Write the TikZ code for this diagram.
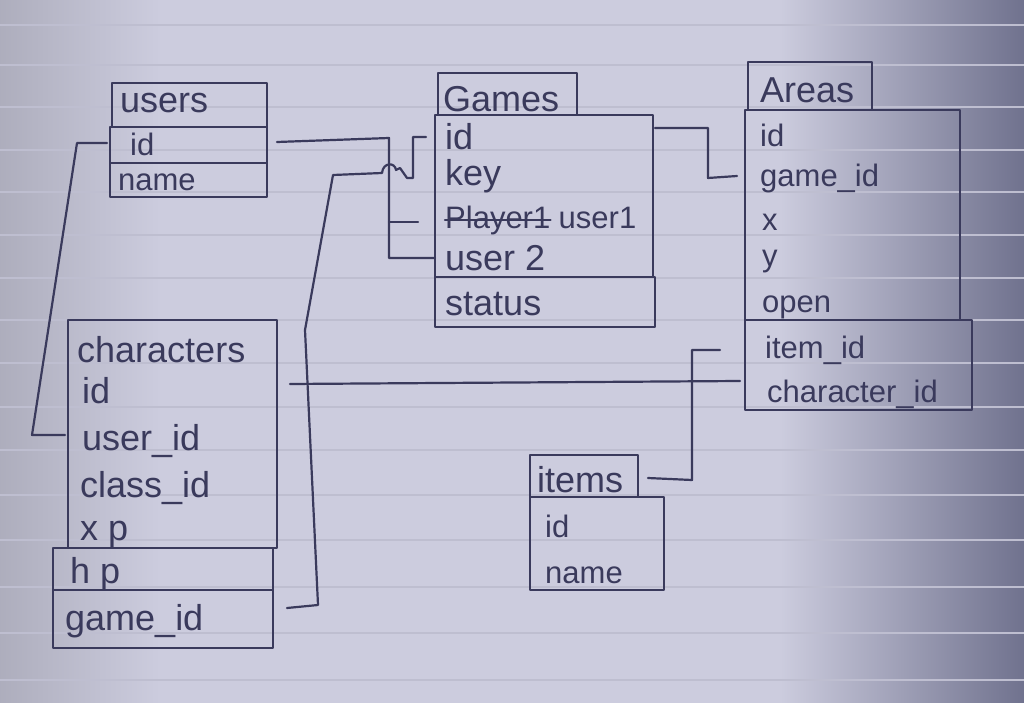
\documentclass[tikz,border=0pt]{standalone}
\usepackage{fontspec}
\setmainfont{Liberation Sans}
\usetikzlibrary{positioning}
\definecolor{ink}{RGB}{58,58,92}
\definecolor{paper}{RGB}{204,204,222}
\definecolor{paperdark}{RGB}{112,114,142}
\definecolor{rule}{RGB}{190,190,208}
\tikzset{
  pen/.style={draw=ink, line width=2.2pt, line cap=round, line join=round},
  lbl/.style={anchor=base west, inner sep=0pt, text=ink, font=\fontsize{36}{40}\selectfont},
  small/.style={lbl, font=\fontsize{31}{34}\selectfont},
}
\begin{document}
\begin{tikzpicture}[x=1pt,y=-1pt]
		\useasboundingbox (0,0) rectangle (1024,703);
		% paper
		\fill[paper] (0,0) rectangle (1024,703);
		\shade[left color=paper, right color=paperdark] (780,0) rectangle (1024,703);
		\shade[left color=paper!85!black, right color=paper] (0,0) rectangle (160,703);
		\foreach \y in {25,65,107,150,192,235,278,320,363,407,450,495,540,587,633,680}
			\draw[rule, line width=1.2pt] (0,\y) -- (1024,\y);

		% users
		\draw[pen] (112,83) rectangle (267,127);
		\draw[pen] (110,127) rectangle (267,163);
		\draw[pen] (110,163) rectangle (267,197);
		\node[lbl] (uTitle) at (120,113) {users};
		\node[small] (uId) at (130,156) {id};
		\node[small] (uName) at (118,191) {name};

		% games
		\draw[pen] (438,73) rectangle (577,115);
		\draw[pen] (435,115) rectangle (653,277);
		\draw[pen] (435,277) rectangle (655,327);
		\node[lbl] (gTitle) at (443,112) {Games};
		\node[lbl] (gId) at (445,150) {id};
		\node[lbl] (gKey) at (445,186) {key};
		\node[small] (gPlayer) at (445,229) {Player1};
		\node[small, right=8pt of gPlayer.base east, anchor=base west] (gUser1) {user1};
		\draw[pen] ([yshift=9pt]gPlayer.base west) -- ([yshift=9pt]gPlayer.base east);
		\node[lbl] (gUser2) at (445,270) {user 2};
		\node[lbl] (gStatus) at (445,315) {status};

		% areas
		\draw[pen] (748,62) rectangle (872,110);
		\draw[pen] (745,110) rectangle (960,320);
		\draw[pen] (745,320) rectangle (972,410);
		\node[lbl] (aTitle) at (760,103) {Areas};
		\node[small] (aId) at (760,147) {id};
		\node[small] (aGame) at (760,187) {game\_id};
		\node[small] (aX) at (762,230) {x};
		\node[small] (aY) at (762,266) {y};
		\node[small] (aOpen) at (762,312) {open};
		\node[small] (aItem) at (765,358) {item\_id};
		\node[small] (aChar) at (767,402) {character\_id};

		% characters
		\draw[pen] (68,320) rectangle (277,548);
		\draw[pen] (53,548) rectangle (273,590);
		\draw[pen] (53,590) rectangle (273,648);
		\node[lbl] (cTitle) at (77,362) {characters};
		\node[lbl] (cId) at (82,403) {id};
		\node[lbl] (cUser) at (82,450) {user\_id};
		\node[lbl] (cClass) at (80,497) {class\_id};
		\node[lbl] (cXp) at (80,540) {x p};
		\node[lbl] (cHp) at (70,583) {h p};
		\node[lbl] (cGame) at (65,630) {game\_id};

		% items
		\draw[pen] (530,455) rectangle (638,497);
		\draw[pen] (530,497) rectangle (664,590);
		\node[lbl] (iTitle) at (537,492) {items};
		\node[small] (iId) at (545,537) {id};
		\node[small] (iName) at (545,583) {name};

		% links
		\coordinate (uIdW) at (107,143);
		\coordinate (cUserW) at (65,435);
		\coordinate (uIdE) at (277,142);
		\coordinate (gUser1W) at (418,222);
		\coordinate (gUser2W) at (435,258);
		\coordinate (cGameE) at (287,608);
		\coordinate (gIdW) at (426,137);
		\coordinate (gIdE) at (655,128);
		\coordinate (aGameW) at (737,176);
		\coordinate (cIdE) at (290,384);
		\coordinate (aCharW) at (740,381);
		\coordinate (iTitleE) at (648,478);
		\coordinate (aItemW) at (720,350);

		\draw[pen] (uIdW) -- (77,143) -- (32,435) -- (cUserW);
		\draw[pen] (uIdE) -- (389,138) -- (389,258) -- (gUser2W);
		\draw[pen] (389,222) -- (gUser1W);
		\draw[pen] (cGameE) -- (318,605) -- (305,330) -- (333,175) -- (382,173)
			.. controls (383,162) and (395,162) .. (396,170) -- (400,168) -- (407,178) -- (413,178) -- (413,137) -- (gIdW);
		\draw[pen] (gIdE) -- (708,128) -- (708,178) -- (aGameW);
		\draw[pen] (cIdE) -- (aCharW);
		\draw[pen] (iTitleE) -- (692,480) -- (692,350) -- (aItemW);
\end{tikzpicture}
\end{document}
